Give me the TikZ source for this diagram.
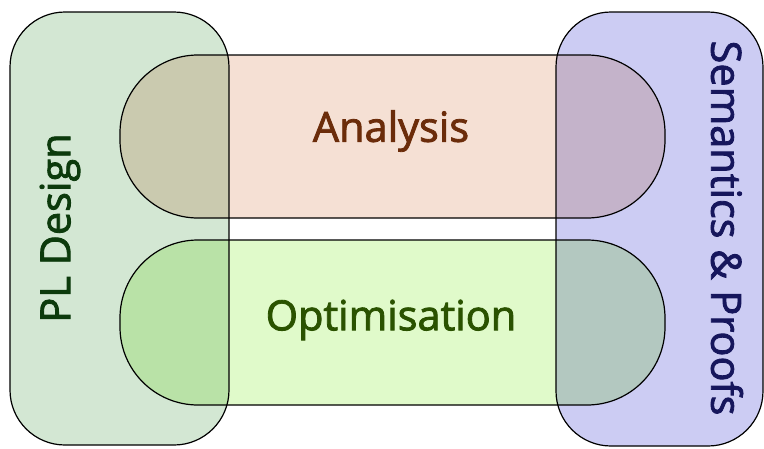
\documentclass[tikz,border=0pt]{standalone}
\usepackage{fontspec}
\setmainfont{Open Sans}
\newfontfamily\tagfont[RawFeature={embolden=2}]{Open Sans}
\definecolor{designfill}{HTML}{D3E7D3}
\definecolor{semfill}{HTML}{CCCCF3}
\definecolor{anafill}{HTML}{F5E0D4}
\definecolor{optfill}{HTML}{E0FACA}
\definecolor{anatext}{HTML}{6B2C0A}
\definecolor{opttext}{HTML}{2A5200}
\definecolor{designtext}{HTML}{0C3A0C}
\definecolor{semtext}{HTML}{16165C}
\begin{document}
\begin{tikzpicture}[x=1pt,y=-1pt,
  outline/.style={draw=black, line width=1.2pt},
  tag/.style={font=\tagfont\fontsize{41.5}{48}\selectfont, inner sep=0pt}]
\useasboundingbox (0,0) rectangle (764,448);
% translucent areas, overlapping regions darken by multiplication
\begin{scope}[blend group=multiply]
  \fill[designfill, rounded corners=55] (10,12) rectangle (229,445);
  \fill[semfill, rounded corners=55] (556,12) rectangle (763,446);
  \fill[anafill, rounded corners=78] (120,55) rectangle (665,218);
  \fill[optfill, rounded corners=78] (120,240) rectangle (665,405);
\end{scope}
% outlines of all areas
\draw[outline, rounded corners=55] (10,12) rectangle (229,445);
\draw[outline, rounded corners=55] (556,12) rectangle (763,446);
\draw[outline, rounded corners=78] (120,55) rectangle (665,218);
\draw[outline, rounded corners=78] (120,240) rectangle (665,405);
% labels
\node[tag, text=anatext] (analysis) at (391,131) {Analysis};
\node[tag, text=opttext] (optimisation) at (391,320) {Optimisation};
\node[tag, text=designtext, rotate=90] (design) at (60,228) {PL Design};
\node[tag, text=semtext, rotate=-90] (semantics) at (727,228) {Semantics \& Proofs};
\end{tikzpicture}
\end{document}
